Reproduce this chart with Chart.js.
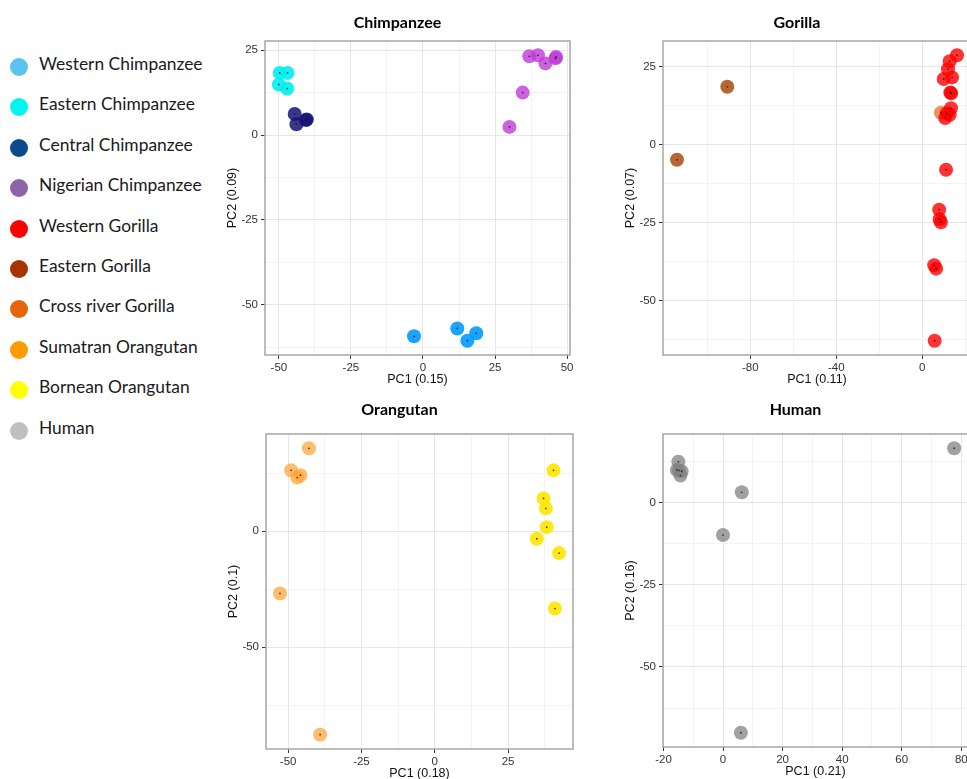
<!DOCTYPE html>
<html lang="en">
<head>
    <meta charset="UTF-8">
    <title>Great ape PCA</title>
    <script src="https://cdn.jsdelivr.net/npm/chart.js"></script>
    <style>
        body { margin: 0; width: 967px; height: 779px; overflow: hidden; background: #fff; position: relative; }
        .panel { position: absolute; }
        .legend-item { position: absolute; left: 9px; height: 20px; font-family: Lato, 'Open Sans', sans-serif; font-size: 17.4px; color: #1a1a1a; white-space: nowrap; }
        .legend-dot { position: absolute; left: 1px; top: -6px; width: 18px; height: 18px; border-radius: 50%; }
        .legend-label { position: absolute; left: 30px; top: -11px; }
    </style>
</head>
<body>
    <div id="legend"></div>
    <canvas class="panel" id="chimp"></canvas>
    <canvas class="panel" id="gorilla"></canvas>
    <canvas class="panel" id="orangutan"></canvas>
    <canvas class="panel" id="human"></canvas>
    <script>
    // groups, legend swatches and point colours
    const groupNames = ['Western Chimpanzee', 'Eastern Chimpanzee', 'Central Chimpanzee', 'Nigerian Chimpanzee',
        'Western Gorilla', 'Eastern Gorilla', 'Cross river Gorilla', 'Sumatran Orangutan', 'Bornean Orangutan', 'Human'];
    const legendColors = ['#5bc3ee', '#00f5f0', '#0b4a8b', '#8c64a8', '#ff0000', '#a83200', '#e6650a', '#ff9a00', '#ffff00', '#c0c0c0'];
    const pointColors = ['rgba(0,155,255,0.9)', 'rgba(0,240,240,0.9)', 'rgba(20,20,120,0.85)', 'rgba(190,60,215,0.8)',
        'rgba(255,0,0,0.8)', 'rgba(170,75,15,0.85)', 'rgba(235,120,50,0.8)', 'rgba(255,165,60,0.75)', 'rgba(255,230,0,0.9)', 'rgba(130,130,130,0.75)'];

    // PC1 / PC2 per group
    const westernChimpX = [-3.1, 11.9, 15.4, 18.5];
    const westernChimpY = [-59.3, -57.0, -60.6, -58.4];
    const easternChimpX = [-49.7, -47.0, -50.0, -47.1];
    const easternChimpY = [18.3, 18.3, 14.9, 13.7];
    const centralChimpX = [-44.5, -43.9, -40.6, -40.3];
    const centralChimpY = [6.2, 3.2, 4.4, 4.6];
    const nigerianChimpX = [36.9, 39.9, 42.5, 46.2, 46.0, 34.6, 30.0];
    const nigerianChimpY = [23.2, 23.5, 21.1, 23.0, 22.6, 12.5, 2.4];
    const westernGorillaX = [16.2, 12.8, 12.0, 10.0, 13.9, 13.1, 13.5, 13.4, 11.5, 10.7, 12.8, 11.1, 7.9, 8.1, 8.7, 5.6, 6.5, 5.8];
    const westernGorillaY = [28.6, 26.7, 24.1, 21.0, 21.5, 16.7, 16.4, 11.6, 10.0, 8.5, 9.5, -8.1, -20.9, -24.0, -24.9, -38.7, -39.8, -62.9];
    const easternGorillaX = [-90.7, -114.1];
    const easternGorillaY = [18.5, -4.9];
    const crossRiverX = [8.7];
    const crossRiverY = [10.2];
    const sumatranX = [-42.9, -49.0, -45.8, -46.9, -52.8, -39.1];
    const sumatranY = [35.7, 26.2, 24.1, 23.1, -26.9, -87.8];
    const borneanX = [40.5, 37.1, 37.9, 38.2, 34.8, 42.4, 41.0];
    const borneanY = [26.2, 14.1, 9.8, 1.7, -3.3, -9.5, -33.4];
    const humanX = [-15.0, -15.5, -13.9, -14.3, -14.8, 6.3, 0.0, 6.0, 77.6];
    const humanY = [12.4, 9.9, 9.5, 8.2, 9.7, 3.1, -9.9, -70.0, 16.5];

    // major tick labels per panel
    const chimpXTicks = [-50, -25, 0, 25, 50];
    const chimpYTicks = [-50, -25, 0, 25];
    const gorillaXTicks = [-80, -40, 0];
    const gorillaYTicks = [-50, -25, 0, 25];
    const orangXTicks = [-50, -25, 0, 25];
    const orangYTicks = [-50, 0];
    const humanXTicks = [-20, 0, 20, 40, 60, 80];
    const humanYTicks = [-50, -25, 0];

    const panels = [
        { id: 'chimp', title: 'Chimpanzee', xTitle: 'PC1 (0.15)', yTitle: 'PC2 (0.09)',
          groups: [[0, westernChimpX, westernChimpY], [1, easternChimpX, easternChimpY], [2, centralChimpX, centralChimpY], [3, nigerianChimpX, nigerianChimpY]],
          xTicks: chimpXTicks, yTicks: chimpYTicks, box: [265, 41, 570, 355], titleY: 22.5, top: 0 },
        { id: 'gorilla', title: 'Gorilla', xTitle: 'PC1 (0.11)', yTitle: 'PC2 (0.07)',
          groups: [[4, westernGorillaX, westernGorillaY], [5, easternGorillaX, easternGorillaY], [6, crossRiverX, crossRiverY]],
          xTicks: gorillaXTicks, yTicks: gorillaYTicks, box: [663, 41, 971, 355], titleY: 22.5, top: 0 },
        { id: 'orangutan', title: 'Orangutan', xTitle: 'PC1 (0.18)', yTitle: 'PC2 (0.1)',
          groups: [[7, sumatranX, sumatranY], [8, borneanX, borneanY]],
          xTicks: orangXTicks, yTicks: orangYTicks, box: [266, 434, 573, 749], titleY: 410, top: 388 },
        { id: 'human', title: 'Human', xTitle: 'PC1 (0.21)', yTitle: 'PC2 (0.16)',
          groups: [[9, humanX, humanY]],
          xTicks: humanXTicks, yTicks: humanYTicks, box: [663, 434, 968, 747], titleY: 410, top: 388 }
    ];

    // legend
    const legend = document.getElementById('legend');
    groupNames.forEach((name, i) => {
        const item = document.createElement('div');
        item.className = 'legend-item';
        item.style.top = (64 + 40.4 * i) + 'px';
        item.innerHTML = `<span class="legend-dot" style="background:${legendColors[i]}"></span><span class="legend-label">${name}</span>`;
        legend.appendChild(item);
    });

    // ggplot-like 5% expansion
    function limits(vals) {
        const lo = Math.min(...vals), hi = Math.max(...vals);
        const pad = (hi - lo) * 0.05;
        return [lo - pad, hi + pad];
    }
    function allTicks(major, lo, hi) {
        const step = major[1] - major[0];
        const out = new Set(major.filter(v => v >= lo && v <= hi));
        major.forEach(v => {
            [v - step / 2, v + step / 2].forEach(m => { if (m >= lo && m <= hi) out.add(m); });
        });
        return [...out].sort((a, b) => a - b);
    }

    const borderPlugin = {
        id: 'panelBorder',
        afterDatasetsDraw(chart) {
            const a = chart.chartArea, ctx = chart.ctx;
            ctx.save();
            ctx.strokeStyle = '#a6a6a6';
            ctx.lineWidth = 1.5;
            ctx.strokeRect(a.left, a.top, a.right - a.left, a.bottom - a.top);
            ctx.restore();
        }
    };

    const Y_AXIS_W = 40, X_AXIS_H = 32, PAD_R = 12;
    const tickFont = { family: "'Liberation Sans', Arial, sans-serif", size: 11.5 };
    const titleFont = { family: "'Liberation Sans', Arial, sans-serif", size: 12.5 };

    function axis(major, lo, hi, title, horizontal) {
        const ticksAll = allTicks(major, lo, hi);
        return {
            type: 'linear', min: lo, max: hi,
            afterBuildTicks: s => { s.ticks = ticksAll.map(v => ({ value: v })); },
            afterFit: s => { if (horizontal) s.height = X_AXIS_H; else s.width = Y_AXIS_W; },
            ticks: { autoSkip: false, maxRotation: 0, padding: horizontal ? 2 : 3, color: '#333', font: tickFont,
                     callback: v => major.includes(v) ? String(v) : '' },
            grid: { color: c => major.includes(c.tick && c.tick.value) ? '#e6e6e6' : '#f3f3f3', lineWidth: 1,
                    tickLength: 4, tickColor: c => major.includes(c.tick && c.tick.value) ? '#333' : 'rgba(0,0,0,0)' },
            border: { display: false },
            title: { display: true, text: title, color: '#111', font: titleFont, padding: 0 }
        };
    }

    panels.forEach(p => {
        const [l, t, r, b] = p.box;
        const xs = [], ys = [];
        p.groups.forEach(g => { xs.push(...g[1]); ys.push(...g[2]); });
        const [xlo, xhi] = limits(xs), [ylo, yhi] = limits(ys);

        const canvas = document.getElementById(p.id);
        const w = (r - l) + Y_AXIS_W + PAD_R, h = (b - p.top) + X_AXIS_H + 2;
        canvas.width = w; canvas.height = h;
        canvas.style.left = (l - Y_AXIS_W) + 'px';
        canvas.style.top = p.top + 'px';

        const datasets = [];
        p.groups.forEach(([gi, gx, gy]) => {
            const pts = gx.map((x, k) => ({ x: x, y: gy[k] }));
            datasets.push({ label: groupNames[gi], data: pts, backgroundColor: pointColors[gi], borderWidth: 0, pointRadius: 7, order: 1 });
            datasets.push({ label: groupNames[gi] + ' centre', data: pts, backgroundColor: 'rgba(40,10,10,0.75)', borderWidth: 0, pointRadius: 0.9, order: 0 });
        });

        new Chart(canvas.getContext('2d'), {
            type: 'scatter',
            data: { datasets: datasets },
            plugins: [borderPlugin],
            options: {
                responsive: false,
                animation: false,
                layout: { padding: { left: 0, right: PAD_R, top: 0, bottom: 2 } },
                plugins: {
                    legend: { display: false },
                    tooltip: { enabled: false },
                    title: { display: true, text: p.title, color: '#000',
                             font: { family: 'Lato, sans-serif', size: 16, weight: 'bold', lineHeight: 1.2 },
                             padding: { top: p.titleY - p.top - 9.6, bottom: t - p.titleY - 9.6 } }
                },
                scales: {
                    x: axis(p.xTicks, xlo, xhi, p.xTitle, true),
                    y: axis(p.yTicks, ylo, yhi, p.yTitle, false)
                }
            }
        });
    });
    </script>
</body>
</html>
